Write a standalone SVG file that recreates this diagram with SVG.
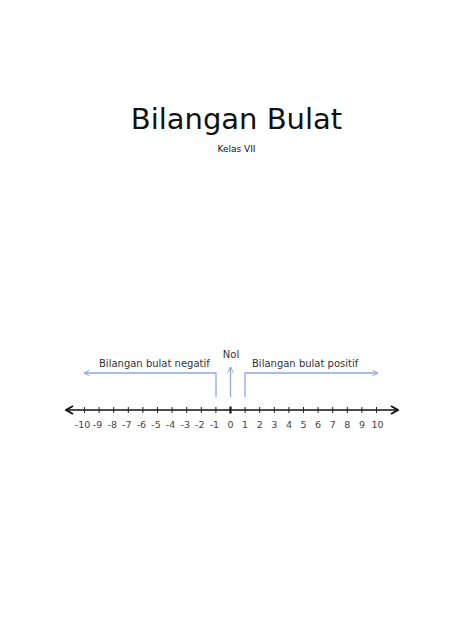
<svg xmlns="http://www.w3.org/2000/svg" width="474" height="632" viewBox="0 0 474 632">
<style>
.t{font-family:"DejaVu Sans","Liberation Sans",sans-serif;fill:#111}
.lbl{font-family:"DejaVu Sans","Liberation Sans",sans-serif;font-size:10px;fill:#333}
.num{font-family:"DejaVu Sans","Liberation Sans",sans-serif;font-size:9.5px;fill:#444;text-anchor:middle}
.blue{stroke:#8fa8dc;stroke-width:1.3;fill:none}
.tick{stroke:#222;stroke-width:1}
</style>
<defs>
<marker id="ba" viewBox="0 0 10 10" refX="9" refY="5" markerWidth="7" markerHeight="7" orient="auto" markerUnits="userSpaceOnUse">
<path d="M1,1 L9,5 L1,9" fill="none" stroke="#8fa8dc" stroke-width="1.4"/>
</marker>
<marker id="ka" viewBox="0 0 10 10" refX="9" refY="5" markerWidth="10" markerHeight="10" orient="auto" markerUnits="userSpaceOnUse">
<path d="M2,1 L9,5 L2,9" fill="none" stroke="#111" stroke-width="2"/>
</marker>
</defs>
<rect width="474" height="632" fill="#fff"/>
<g id="title">
<text class="t" x="236.5" y="129" font-size="29" text-anchor="middle">Bilangan Bulat</text>
<text class="t" x="236.5" y="152" font-size="9" text-anchor="middle" fill="#222">Kelas VII</text>
</g>
<g id="connectors">
<line x1="230.5" y1="410" x2="398" y2="410" stroke="#111" stroke-width="1.5" marker-end="url(#ka)"/>
<line x1="230.5" y1="410" x2="66" y2="410" stroke="#111" stroke-width="1.5" marker-end="url(#ka)"/>
<path class="blue" d="M216,397 V373 H84" marker-end="url(#ba)"/>
<path class="blue" d="M245,397 V373 H378" marker-end="url(#ba)"/>
<path class="blue" d="M230.5,397 V367" marker-end="url(#ba)"/>
</g>
<g id="ticks">
<line class="tick" x1="84.5" y1="407" x2="84.5" y2="413"/>
<line class="tick" x1="99.1" y1="407" x2="99.1" y2="413"/>
<line class="tick" x1="113.7" y1="407" x2="113.7" y2="413"/>
<line class="tick" x1="128.3" y1="407" x2="128.3" y2="413"/>
<line class="tick" x1="142.9" y1="407" x2="142.9" y2="413"/>
<line class="tick" x1="157.5" y1="407" x2="157.5" y2="413"/>
<line class="tick" x1="172.1" y1="407" x2="172.1" y2="413"/>
<line class="tick" x1="186.7" y1="407" x2="186.7" y2="413"/>
<line class="tick" x1="201.3" y1="407" x2="201.3" y2="413"/>
<line class="tick" x1="215.9" y1="407" x2="215.9" y2="413"/>
<line x1="230.5" y1="406.5" x2="230.5" y2="413.5" stroke="#111" stroke-width="2.2"/>
<line class="tick" x1="245.1" y1="407" x2="245.1" y2="413"/>
<line class="tick" x1="259.7" y1="407" x2="259.7" y2="413"/>
<line class="tick" x1="274.3" y1="407" x2="274.3" y2="413"/>
<line class="tick" x1="288.9" y1="407" x2="288.9" y2="413"/>
<line class="tick" x1="303.5" y1="407" x2="303.5" y2="413"/>
<line class="tick" x1="318.1" y1="407" x2="318.1" y2="413"/>
<line class="tick" x1="332.7" y1="407" x2="332.7" y2="413"/>
<line class="tick" x1="347.3" y1="407" x2="347.3" y2="413"/>
<line class="tick" x1="361.9" y1="407" x2="361.9" y2="413"/>
<line class="tick" x1="376.5" y1="407" x2="376.5" y2="413"/>
</g>
<g id="numbers">
<text class="num" x="82.5" y="428">-10</text>
<text class="num" x="97.6" y="428">-9</text>
<text class="num" x="112.2" y="428">-8</text>
<text class="num" x="126.8" y="428">-7</text>
<text class="num" x="141.4" y="428">-6</text>
<text class="num" x="156" y="428">-5</text>
<text class="num" x="170.6" y="428">-4</text>
<text class="num" x="185.2" y="428">-3</text>
<text class="num" x="199.8" y="428">-2</text>
<text class="num" x="214.4" y="428">-1</text>
<text class="num" x="230.5" y="428">0</text>
<text class="num" x="245.1" y="428">1</text>
<text class="num" x="259.7" y="428">2</text>
<text class="num" x="274.3" y="428">3</text>
<text class="num" x="288.9" y="428">4</text>
<text class="num" x="303.5" y="428">5</text>
<text class="num" x="318.1" y="428">6</text>
<text class="num" x="332.7" y="428">7</text>
<text class="num" x="347.3" y="428">8</text>
<text class="num" x="361.9" y="428">9</text>
<text class="num" x="377.5" y="428">10</text>
</g>
<g id="label-negatif"><text class="lbl" x="99" y="367">Bilangan bulat negatif</text></g>
<g id="label-nol"><text class="lbl" x="231" y="358" text-anchor="middle" fill="#222">Nol</text></g>
<g id="label-positif"><text class="lbl" x="252" y="367">Bilangan bulat positif</text></g>
</svg>
